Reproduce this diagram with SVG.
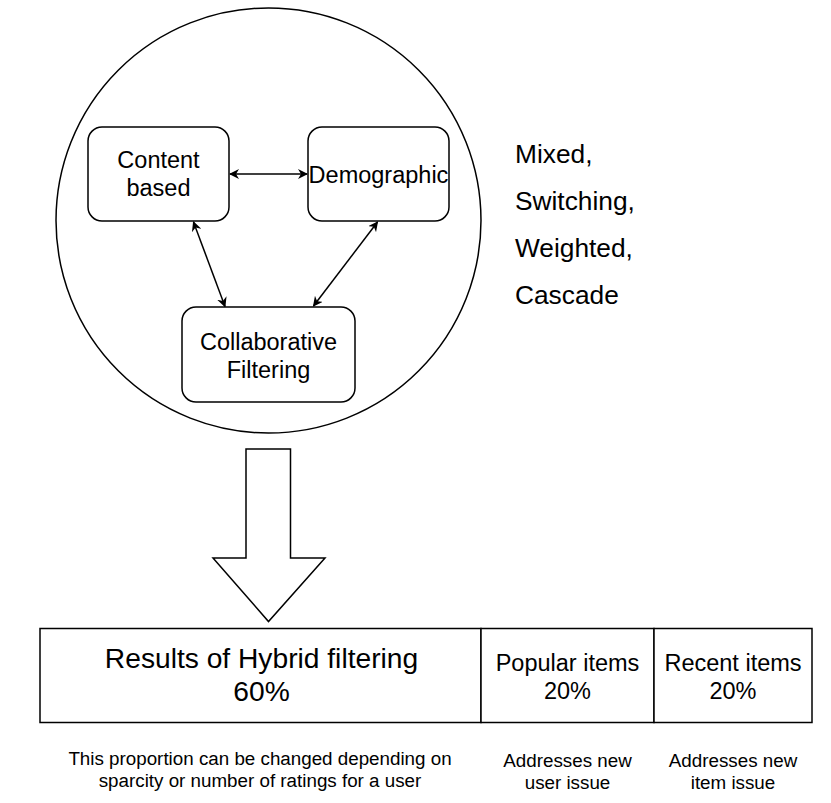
<svg xmlns="http://www.w3.org/2000/svg" width="831" height="803" viewBox="0 0 831 803">
<defs>
<style>
.s{fill:#fff;stroke:#000;stroke-width:1.5}
.t{font-family:"Liberation Sans",Arial,sans-serif;fill:#000;text-anchor:middle}
.n{font-size:23.5px}
.m{font-size:26.3px;text-anchor:start}
.q{font-size:18.8px}
.c{stroke:#000;stroke-width:1.5;fill:none;marker-start:url(#a);marker-end:url(#a)}
</style>
<marker id="a" viewBox="0 0 10 10" refX="9" refY="5" markerWidth="10" markerHeight="10" markerUnits="userSpaceOnUse" orient="auto-start-reverse">
<path d="M0,0 L10,5 L0,10 L3,5 Z" fill="#000"/>
</marker>
</defs>
<rect width="831" height="803" fill="#fff"/>
<g id="circle"><circle class="s" cx="268.5" cy="220.5" r="212.5"/></g>
<g id="content"><rect class="s" x="88" y="127" width="141" height="94" rx="14"/>
<text class="t n" x="158.5" y="168">Content</text><text class="t n" x="158.5" y="196">based</text></g>
<g id="demographic"><rect class="s" x="308" y="127" width="141" height="94" rx="14"/>
<text class="t n" x="378.5" y="183">Demographic</text></g>
<g id="collaborative"><rect class="s" x="182" y="307" width="173" height="95" rx="14"/>
<text class="t n" x="268.5" y="350">Collaborative</text><text class="t n" x="268.5" y="378">Filtering</text></g>
<g id="connectors">
<line class="c" x1="230" y1="174" x2="307" y2="174"/>
<line class="c" x1="193.5" y1="222" x2="225" y2="306.5"/>
<line class="c" x1="377.5" y1="222" x2="313.5" y2="306"/>
</g>
<g id="methods"><text class="t m" x="515" y="163">Mixed,</text>
<text class="t m" x="515" y="210">Switching,</text>
<text class="t m" x="515" y="257">Weighted,</text>
<text class="t m" x="515" y="304">Cascade</text></g>
<g id="bigarrow"><path class="s" d="M246,449 H290.5 V558 H325 L268.5,621.5 L213,558 H246 Z"/></g>
<g id="results"><rect class="s" x="40" y="628.5" width="441" height="94"/>
<text class="t" style="font-size:28.2px" x="261.5" y="668">Results of Hybrid filtering</text>
<text class="t" style="font-size:28.2px" x="261.5" y="701">60%</text></g>
<g id="popular"><rect class="s" x="481" y="628.5" width="173" height="94"/>
<text class="t n" x="567.5" y="670.5">Popular items</text><text class="t n" x="567.5" y="698.5">20%</text></g>
<g id="recent"><rect class="s" x="654" y="628.5" width="158" height="94"/>
<text class="t n" x="733" y="670.5">Recent items</text><text class="t n" x="733" y="698.5">20%</text></g>
<g id="notes">
<text class="t q" x="260" y="765">This proportion can be changed depending on</text>
<text class="t q" x="260" y="787">sparcity or number of ratings for a user</text>
<text class="t q" x="567.5" y="767">Addresses new</text>
<text class="t q" x="567.5" y="788.5">user issue</text>
<text class="t q" x="733" y="767">Addresses new</text>
<text class="t q" x="733" y="788.5">item issue</text>
</g>
</svg>
